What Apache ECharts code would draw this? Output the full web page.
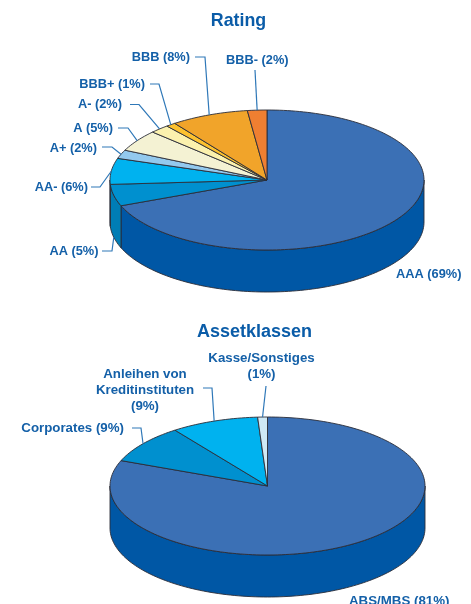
<!DOCTYPE html>
<html>
<head>
<meta charset="utf-8">
<style>
  html, body { margin: 0; padding: 0; background: #fff; }
  #chart { width: 471px; height: 604px; }
</style>
<script src="https://cdn.jsdelivr.net/npm/echarts@6/dist/echarts.min.js"></script>
</head>
<body>
<div id="chart"></div>
<script>
// Rating
const ratingNames = ['AAA (69%)', 'AA (5%)', 'AA- (6%)', 'A+ (2%)', 'A (5%)', 'A- (2%)', 'BBB+ (1%)', 'BBB (8%)', 'BBB- (2%)'];
const ratingValues = [69, 5, 6, 2, 5, 2, 1, 8, 2];
// Assetklassen
const assetNames = ['ABS/MBS (81%)', 'Corporates (9%)', 'Anleihen von\nKreditinstituten\n(9%)', 'Kasse/Sonstiges\n(1%)'];
const assetValues = [81, 9, 9, 1];

const ratingColors = ['#3b70b5', '#0090cf', '#00b2ef', '#93c9ee', '#f4f2d3', '#fbf1ae', '#fcc12f', '#f1a42a', '#ef7f31'];
const ratingSides = ['#0057a5', '#007db5', '#007db5', '#93c9ee', '#f4f2d3', '#fbf1ae', '#fcc12f', '#f1a42a', '#ef7f31'];
const assetColors = ['#3b70b5', '#0090cf', '#00b2ef', '#cfe9f5'];
const assetSides = ['#0057a5', '#007db5', '#0090cf', '#cfe9f5'];

const textColor = '#1460a8';
const leaderColor = '#2f78b8';
const edgeColor = '#2a2c38';

// label layout: text position, align, and where the leader starts + its elbow
const ratingLabels = [
  { x: 396, y: 274, align: 'left' },
  { x: 98.5, y: 251.5, align: 'right', from: [102, 251], elbow: 112, onSide: true },
  { x: 88, y: 187.5, align: 'right', from: [91, 187], elbow: 100 },
  { x: 97, y: 148.5, align: 'right', from: [102, 147], elbow: 112 },
  { x: 113, y: 128.5, align: 'right', from: [118, 128], elbow: 128 },
  { x: 122, y: 104.5, align: 'right', from: [130, 104.5], elbow: 139 },
  { x: 145, y: 84.5, align: 'right', from: [150, 84], elbow: 159 },
  { x: 190, y: 57.5, align: 'right', from: [195, 57], elbow: 205 },
  { x: 226, y: 60, align: 'left', from: [255, 70], elbow: 255 }
];
const assetLabels = [
  { x: 349, y: 601, align: 'left' },
  { x: 124, y: 428.5, align: 'right', from: [132, 428], elbow: 141 },
  { x: 145, y: 390, align: 'center', from: [203, 388], elbow: 212 },
  { x: 261.5, y: 366, align: 'center', from: [266, 386], elbow: 266 }
];

// ellipse point, angle in degrees clockwise from 12 o'clock
function rimPoint(pie, deg, drop) {
  const a = deg * Math.PI / 180;
  return [pie.cx + pie.rx * Math.sin(a), pie.cy - pie.ry * Math.cos(a) + (drop || 0)];
}

function arcPoints(pie, from, to, drop) {
  const pts = [];
  const n = Math.max(2, Math.ceil((to - from) / 1.5));
  for (let i = 0; i <= n; i++) {
    pts.push(rimPoint(pie, from + (to - from) * i / n, drop));
  }
  return pts;
}

function makePie(name, values, names, colors, sides, labels, pie) {
  const total = values.reduce((s, v) => s + v, 0);
  return {
    type: 'custom',
    name: name,
    coordinateSystem: 'none',
    silent: true,
    animation: false,
    clip: false,
    data: values,
    renderItem: function (params, api) {
      const i = params.dataIndex;
      const before = values.slice(0, i).reduce((s, v) => s + v, 0);
      const start = before / total * 360;
      const end = (before + values[i]) / total * 360;
      const mid = (start + end) / 2;
      const children = [];

      // only the front half (90..270) shows a wall
      const wallFrom = Math.max(start, 90);
      const wallTo = Math.min(end, 270);
      if (wallTo > wallFrom) {
        const top = arcPoints(pie, wallFrom, wallTo, 0);
        const bottom = arcPoints(pie, wallFrom, wallTo, pie.depth).reverse();
        children.push({
          type: 'polygon',
          shape: { points: top.concat(bottom) },
          style: { fill: sides[i], stroke: edgeColor, lineWidth: 0.9 }
        });
      }

      children.push({
        type: 'polygon',
        shape: { points: [[pie.cx, pie.cy]].concat(arcPoints(pie, start, end, 0)) },
        style: { fill: colors[i], stroke: edgeColor, lineWidth: 0.9, lineJoin: 'round' }
      });

      const lab = labels[i];
      if (lab.from) {
        children.push({
          type: 'polyline',
          shape: { points: [lab.from, [lab.elbow, lab.from[1]], rimPoint(pie, mid, lab.onSide ? pie.depth : 0)] },
          style: { fill: null, stroke: leaderColor, lineWidth: 1.2 }
        });
      }
      children.push({
        type: 'text',
        x: lab.x,
        y: lab.y,
        style: {
          text: names[i],
          fill: textColor,
          font: 'bold ' + pie.fontSize + 'px "Liberation Sans", Arial, sans-serif',
          align: lab.align,
          verticalAlign: 'middle',
          lineHeight: 16
        }
      });
      return { type: 'group', children: children };
    }
  };
}

const chart = echarts.init(document.getElementById('chart'), null, { renderer: 'canvas' });
chart.setOption({
  backgroundColor: '#ffffff',
  animation: false,
  title: [
    { text: 'Rating', left: 238.5, top: 7.5, textAlign: 'center', textStyle: { color: '#0a5ca8', fontFamily: '"Liberation Sans"', fontWeight: 'bold', fontSize: 17.8 } },
    { text: 'Assetklassen', left: 254.5, top: 318, textAlign: 'center', textStyle: { color: '#0a5ca8', fontFamily: '"Liberation Sans"', fontWeight: 'bold', fontSize: 18 } }
  ].map(t => Object.assign(t, { left: t.left - 5 })),
  series: [
    makePie('Rating', ratingValues, ratingNames, ratingColors, ratingSides, ratingLabels, { cx: 267, cy: 180, rx: 157, ry: 70, depth: 42, fontSize: 12.8 }),
    makePie('Assetklassen', assetValues, assetNames, assetColors, assetSides, assetLabels, { cx: 267.5, cy: 486, rx: 157.5, ry: 69, depth: 42, fontSize: 13.3 })
  ]
});
</script>
</body>
</html>
